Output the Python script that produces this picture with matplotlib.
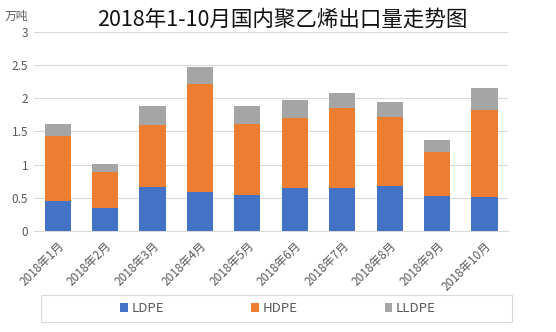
import matplotlib
matplotlib.use("Agg")
import matplotlib.pyplot as plt
from matplotlib.patches import Rectangle
import numpy as np

plt.rcParams['font.family'] = ['Noto Sans CJK SC', 'DejaVu Sans']

# data (万吨)
months = ['2018年1月', '2018年2月', '2018年3月', '2018年4月', '2018年5月',
          '2018年6月', '2018年7月', '2018年8月', '2018年9月', '2018年10月']
ldpe = [0.45, 0.35, 0.66, 0.59, 0.54, 0.65, 0.65, 0.68, 0.53, 0.51]
hdpe = [0.98, 0.54, 0.93, 1.63, 1.08, 1.05, 1.20, 1.04, 0.66, 1.31]
lldpe = [0.19, 0.12, 0.30, 0.25, 0.27, 0.28, 0.23, 0.22, 0.18, 0.33]
yticks = [0, 0.5, 1, 1.5, 2, 2.5, 3]

colors = ['#4472C4', '#ED7D31', '#A5A5A5']
text_gray = '#595959'

fig = plt.figure(figsize=(5.56, 3.32), dpi=100)
ax = fig.add_axes([0.061, 0.304, 0.853, 0.600])

x = np.arange(len(months))
ldpe = np.array(ldpe)
hdpe = np.array(hdpe)
lldpe = np.array(lldpe)
w = 0.55
b1 = ax.bar(x, ldpe, w, color=colors[0], label='LDPE', zorder=3)
b2 = ax.bar(x, hdpe, w, bottom=ldpe, color=colors[1], label='HDPE', zorder=3)
b3 = ax.bar(x, lldpe, w, bottom=ldpe + hdpe, color=colors[2], label='LLDPE', zorder=3)

ax.set_xlim(-0.5, len(months) - 0.5)
ax.set_ylim(0, 3)
ax.set_yticks(yticks)
ax.set_yticklabels(['0', '0.5', '1', '1.5', '2', '2.5', '3'])
ax.set_xticks(x)
ax.set_xticklabels(months, rotation=45, ha='right', rotation_mode='anchor')
ax.tick_params(axis='both', length=0, labelsize=8.5, colors=text_gray, pad=4)
ax.tick_params(axis='x', pad=6)
ax.grid(axis='y', color='#D9D9D9', linewidth=0.8, zorder=0)
for s in ['top', 'right', 'left']:
    ax.spines[s].set_visible(False)
ax.spines['bottom'].set_color('#D9D9D9')

fig.text(0.507, 0.94, '2018年1-10月国内聚乙烯出口量走势图', ha='center', va='center',
         fontsize=15.5, color='#111111')
fig.text(0.03, 0.95, '万吨', ha='center', va='center', fontsize=8.5, color=text_gray)

# legend with its own frame
fig.patches.append(Rectangle((41 / 556, 1 - 322 / 332), 471 / 556, 27 / 332,
                             transform=fig.transFigure, fill=False,
                             edgecolor='#D9D9D9', linewidth=0.8))
fig.legend(handles=[b1, b2, b3], loc='center', bbox_to_anchor=(0.5, 1 - 308.5 / 332),
           ncol=3, frameon=False, fontsize=9.5, handlelength=0.6, handleheight=0.6,
           handletextpad=0.25, columnspacing=6.6, labelcolor=text_gray)

fig.savefig('out.png', dpi=100)
